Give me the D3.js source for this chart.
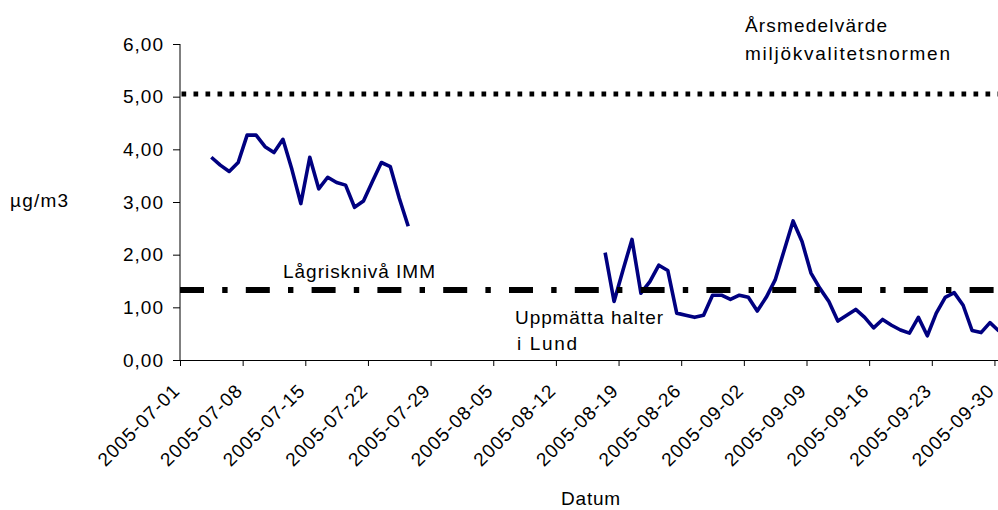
<!DOCTYPE html>
<html>
<head>
<meta charset="utf-8">
<script src="https://cdn.jsdelivr.net/npm/d3@7"></script>
<style>
  html, body { margin: 0; padding: 0; background: #fff; }
  svg { display: block; font-family: Arial, "Liberation Sans", sans-serif; }
</style>
</head>
<body>
<svg id="chart" width="998" height="510"></svg>
<script>
// Daily measured concentrations in Lund (µg/m3); null = no measurement that day
const firstDay = "2005-07-04";
const lastDay = "2005-09-30";
const values = [
  3.85, 3.70, 3.58, 3.75, 4.27, 4.27, 4.05, 3.94, 4.19, 3.62, 2.97, 3.85, 3.25,
  3.47, 3.37, 3.32, 2.90, 3.02, 3.39, 3.75, 3.67, 3.07, 2.54,
  null, null, null, null, null, null, null, null, null, null, null, null, null,
  null, null, null, null, null, null, null, null,
  2.04, 1.11, 1.71, 2.29, 1.27, 1.49, 1.80, 1.70, 0.89, 0.85, 0.81, 0.85, 1.23,
  1.23, 1.15, 1.23, 1.19, 0.93, 1.19, 1.52, 2.08, 2.64, 2.25, 1.65, 1.36, 1.11,
  0.74, 0.85, 0.96, 0.81, 0.61, 0.77, 0.66, 0.57, 0.51, 0.81, 0.46, 0.89, 1.19,
  1.28, 1.04, 0.56, 0.52, 0.71, 0.55
];

// Reference levels
const annualMeanNorm = 5.05;   // Årsmedelvärde miljökvalitetsnormen
const lowRiskLevel = 1.33;     // Lågrisknivå IMM

// Axis ticks
const xTickLabels = [
  "2005-07-01", "2005-07-08", "2005-07-15", "2005-07-22", "2005-07-29",
  "2005-08-05", "2005-08-12", "2005-08-19", "2005-08-26", "2005-09-02",
  "2005-09-09", "2005-09-16", "2005-09-23", "2005-09-30"
];
const yTicks = [0, 1, 2, 3, 4, 5, 6];
const yTickLabels = ["0,00", "1,00", "2,00", "3,00", "4,00", "5,00", "6,00"];

const parse = d3.utcParse("%Y-%m-%d");
const days = d3.utcDay.range(parse(firstDay), d3.utcDay.offset(parse(lastDay), 1));
const series = days.map((d, i) => ({ date: d, value: values[i] }));

const svg = d3.select("#chart");
const plotLeft = 180, plotRight = 1003.4, plotTop = 44, plotBottom = 360;

const x = d3.scaleUtc()
  .domain([parse("2005-07-01"), parse("2005-10-01")])
  .range([plotLeft, plotRight]);
const y = d3.scaleLinear().domain([0, 6]).range([plotBottom, plotTop]);

// Points sit in the middle of their day
const xMid = d => x(d3.utcHour.offset(d, 12));

const textStyle = sel => sel
  .attr("font-size", 19)
  .attr("fill", "#000");

// Measured values
svg.append("path")
  .datum(series)
  .attr("fill", "none")
  .attr("stroke", "#000080")
  .attr("stroke-width", 3.6)
  .attr("stroke-linejoin", "round")
  .attr("d", d3.line()
    .defined(d => d.value != null)
    .x(d => xMid(d.date))
    .y(d => y(d.value)));

// Reference lines
svg.append("line")
  .attr("x1", plotLeft + 1.5).attr("x2", 998)
  .attr("y1", y(annualMeanNorm)).attr("y2", y(annualMeanNorm))
  .attr("stroke", "#000").attr("stroke-width", 5)
  .attr("stroke-dasharray", "4.7,7.3");

svg.append("line")
  .attr("x1", plotLeft).attr("x2", 998)
  .attr("y1", y(lowRiskLevel)).attr("y2", y(lowRiskLevel))
  .attr("stroke", "#000").attr("stroke-width", 6)
  .attr("stroke-dasharray", "24,18.2,5.4,18.2");

// Y axis
const yAxis = svg.append("g")
  .attr("transform", `translate(${plotLeft},0)`)
  .call(d3.axisLeft(y)
    .tickValues(yTicks)
    .tickFormat((d, i) => yTickLabels[i])
    .tickSize(7)
    .tickPadding(9));
yAxis.attr("font-family", null).attr("font-size", null);
yAxis.select(".domain").attr("stroke", "#000").attr("d", `M0,${plotTop}V${plotBottom}`);
yAxis.selectAll(".tick line").attr("stroke", "#000");
yAxis.selectAll(".tick text")
  .attr("font-size", 19)
  .attr("letter-spacing", 1).attr("fill", "#000");

// X axis
const xAxis = svg.append("g")
  .attr("transform", `translate(0,${plotBottom})`)
  .call(d3.axisBottom(x)
    .tickValues(xTickLabels.map(parse))
    .tickFormat((d, i) => xTickLabels[i])
    .tickSize(6)
    .tickSizeOuter(0));
xAxis.attr("font-family", null).attr("font-size", null);
xAxis.select(".domain").attr("stroke", "#000");
xAxis.selectAll(".tick line").attr("stroke", "#000");
xAxis.selectAll(".tick text")
  .attr("font-size", 19)
  .attr("letter-spacing", 1)
  .attr("fill", "#000")
  .attr("text-anchor", "end")
  .attr("x", 0).attr("y", 0)
  .attr("dy", "0.35em")
  .attr("transform", "translate(-4,27) rotate(-45)");

// Axis titles
svg.append("text").call(textStyle)
  .attr("x", 10).attr("y", 207)
  .attr("textLength", 58).attr("lengthAdjust", "spacing")
  .text("µg/m3");

svg.append("text").call(textStyle)
  .attr("x", 591).attr("y", 505)
  .attr("text-anchor", "middle")
  .attr("letter-spacing", 0.8)
  .text("Datum");

// Annotations
const notes = [
  { text: "Årsmedelvärde", x: 745, y: 31.5, w: 142 },
  { text: "miljökvalitetsnormen", x: 745, y: 60, w: 205 },
  { text: "Lågrisknivå IMM", x: 283, y: 278, w: 152 },
  { text: "Uppmätta halter", x: 515, y: 323.5, w: 148 },
  { text: "i Lund", x: 517, y: 350, w: 60 }
];
svg.selectAll("text.note")
  .data(notes)
  .join("text")
  .attr("class", "note")
  .call(textStyle)
  .attr("x", d => d.x)
  .attr("y", d => d.y)
  .attr("textLength", d => d.w)
  .attr("lengthAdjust", "spacing")
  .text(d => d.text);
</script>
</body>
</html>
